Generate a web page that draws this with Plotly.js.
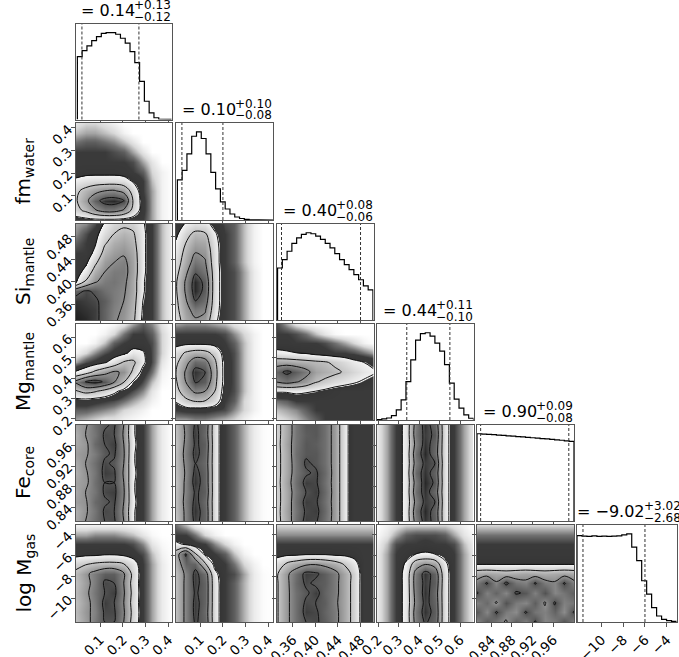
<!DOCTYPE html>
<html><head><meta charset="utf-8">
<script src="https://cdn.plot.ly/plotly-3.0.1.min.js"></script>
<style>html,body{margin:0;padding:0;background:#fff}</style>
</head><body><div id="chart" style="width:679px;height:657px"></div>
<script>
// ---------- data ----------
const paramLabels = ['', 'fm<sub>water</sub>', 'Si<sub>mantle</sub>', 'Mg<sub>mantle</sub>', 'Fe<sub>core</sub>', 'log M<sub>gas</sub>'];
const medians   = [0.14, 0.10, 0.40, 0.44, 0.90, -9.02];
const errPlus   = [0.13, 0.10, 0.08, 0.11, 0.09, 3.02];
const errMinus  = [0.12, 0.08, 0.06, 0.10, 0.08, 2.68];
const medianText = ['0.14', '0.10', '0.40', '0.44', '0.90', '\u22129.02'];
const plusText   = ['+0.13', '+0.10', '+0.08', '+0.11', '+0.09', '+3.02'];
const minusText  = ['\u22120.12', '\u22120.08', '\u22120.06', '\u22120.10', '\u22120.08', '\u22122.68'];

const tickVals = [[0.1,0.2,0.3,0.4],[0.1,0.2,0.3,0.4],[0.36,0.40,0.44,0.48],[0.2,0.3,0.4,0.5,0.6],[0.84,0.88,0.92,0.96],[-10,-8,-6,-4]];
const tickText = [['0.1','0.2','0.3','0.4'],['0.1','0.2','0.3','0.4'],['0.36','0.40','0.44','0.48'],['0.2','0.3','0.4','0.5','0.6'],['0.84','0.88','0.92','0.96'],['\u221210','\u22128','\u22126','\u22124']];

// histogram bin ranges (20 bins each) and counts (relative)
const histRange = [[0,0.42],[0,0.42],[0.333,0.502],[0.195,0.665],[0.813,1.0],[-12.25,-3.1]];
const hist0 = [72.5,79.4,84.8,90.8,95.4,99.3,100,100,98.2,93.6,87.9,78.2,65.6,43.9,21,7.7,2,0.5,0.2,0.1];
const hist1 = [45.6,56.2,75,95,100,92.4,75,54,35.3,20.5,12.5,6.8,3.4,1.7,0.8,0.3,0.1,0,0,0];
const hist2 = [59.6,69.2,78.8,87.7,94.2,98,100,98.8,96,92.3,87.7,82.7,76.1,69.2,63.4,57.7,51.9,46.1,39.2,34.6];
const hist3 = [0.4,1.2,2.3,5,11.5,23,44,69,91.5,99,100,96,88,79,63.5,42.3,24,13.5,5.8,2];
const hist4 = [100,99.6,99.3,98.9,98.4,98,97.6,97.2,96.7,96.3,95.9,95.4,95,94.5,94,93.5,93,92.5,91.8,91.3];
const hist5 = [98,97.3,97,97.7,97,97.3,97,97.3,97.7,98.9,100,84.8,69.6,46.8,31.6,16.3,6.8,3,1.5,0.8];
const hists = [hist0, hist1, hist2, hist3, hist4, hist5];

// 2D density levels (rows listed top -> bottom, 11 x 11 across each panel)
const dens_fm_p1 = [
[.2,.3,.3,.2,.1,0,0,0,0,0,0],
[.4,.5,.5,.4,.3,.1,0,0,0,0,0],
[.7,.8,.8,.7,.6,.4,.2,0,0,0,0],
[1,1,1,1,.9,.8,.5,.2,0,0,0],
[1,1,1,1,1,1,.9,.5,.2,0,0],
[1.1,1.2,1.2,1.2,1.2,1.1,1,.8,.3,.1,0],
[1.7,1.9,2,2,2,1.9,1.4,1,.4,.1,0],
[2.3,2.8,3.2,3.5,3.6,3.2,2.1,1,.5,.1,0],
[2.4,3.2,4.2,4.8,4.9,4.6,2.4,1.1,.5,.1,0],
[2.2,2.7,3.4,3.9,3.9,3.4,2.2,1.1,.5,.1,0],
[1.1,1.2,1.3,1.3,1.3,1.2,1.1,1,.5,.1,0]];
const dens_si_p1 = [
[.5,.6,.9,1.6,2.1,2.3,2.2,1.6,1,.4,.1],
[.6,.9,1.2,2,2.5,2.8,2.6,1.7,1,.4,.1],
[.8,1,1.4,2.4,2.9,3.1,2.8,1.7,1,.4,.1],
[1,1,1.7,2.8,3.2,3.4,3.0,1.7,1,.4,.1],
[1,1.3,2.3,3.2,3.5,3.7,3.1,1.7,1,.4,.1],
[1.1,1.8,2.9,3.5,3.8,3.8,3.1,1.7,1,.4,.1],
[1.4,2.6,3.4,3.8,3.9,3.7,3.0,1.6,1,.4,.1],
[4.2,4.6,4.4,4.0,3.8,3.6,3.0,1.6,1,.4,.1],
[4.8,4.7,4.6,4.3,3.8,3.5,2.9,1.5,1,.4,.1],
[4.9,4.8,4.7,4.2,3.7,3.4,2.8,1.4,1,.4,.1],
[5.0,4.9,4.7,4.2,3.6,3.3,2.7,1.3,1,.4,.1]];
const dens_si_fm = [
[1.0,1.6,1.9,1.8,1.2,.9,.8,.4,.1,0,0],
[1.3,2.2,2.7,2.6,1.6,1,.8,.4,.1,0,0],
[1.6,2.5,3.1,3.0,1.8,1,.8,.4,.1,0,0],
[1.8,2.8,3.5,3.3,1.9,1,.8,.4,.1,0,0],
[2.0,3.0,3.9,3.6,1.9,1,.8,.4,.1,0,0],
[2.2,3.3,4.4,3.9,2.0,1,.9,.5,.15,0,0],
[2.4,3.6,4.9,4.3,2.0,1,.9,.5,.15,0,0],
[2.4,3.6,4.9,4.3,2.0,1,.9,.5,.15,0,0],
[2.3,3.4,4.5,4.0,2.0,1,.9,.5,.15,0,0],
[2.2,3.2,3.8,3.6,1.9,1,.9,.5,.15,0,0],
[2.0,3.0,3.4,3.2,1.7,1,.9,.5,.15,0,0]];
const dens_mg_p1 = [
[0,0,0,0,.05,.2,.5,.8,.6,.2,0],
[0,0,0,.1,.3,.7,1,1,.8,.3,.05],
[0,0,.1,.4,.8,1,1.1,1.1,.9,.3,.05],
[.1,.3,.6,.9,1.1,1.3,1.8,1.6,.9,.3,0],
[.5,.9,1.1,1.4,1.9,2.6,2.7,1.7,.9,.2,0],
[1.6,2.0,2.7,3.2,3.6,3.4,2.3,1.2,.7,.1,0],
[3.7,4.6,4.8,4.4,3.6,2.6,1.4,.9,.4,.05,0],
[2.4,2.8,2.6,2.2,1.7,1.2,.9,.6,.2,0,0],
[1.2,1.2,1.1,1,.9,.7,.5,.3,.1,0,0],
[.8,.8,.7,.6,.5,.3,.2,.1,0,0,0],
[.5,.4,.3,.2,.2,.1,.05,0,0,0,0]];
const dens_mg_fm = [
[.5,.6,.6,.6,.5,.4,.2,.1,0,0,0],
[1,1,1,1,1,.9,.6,.3,.1,0,0],
[1.2,1.3,1.3,1.3,1.2,1,.8,.4,.1,0,0],
[2.0,2.6,2.9,2.8,2.2,1.1,.9,.4,.1,0,0],
[2.3,3.2,4.1,3.9,2.7,1.2,.9,.4,.1,0,0],
[2.5,3.6,4.8,4.5,2.9,1.2,.9,.4,.1,0,0],
[2.4,3.5,4.6,4.3,2.8,1.2,.9,.4,.1,0,0],
[2.2,3.0,3.7,3.5,2.5,1.1,.9,.4,.1,0,0],
[1.6,2.3,2.6,2.5,2.0,1,.8,.3,.1,0,0],
[1,1.1,1.1,1.1,1,.9,.6,.3,.1,0,0],
[.5,.5,.6,.6,.5,.4,.3,.1,0,0,0]];
const dens_mg_si = [
[.9,.5,.2,.05,0,0,0,0,0,0,0],
[1,1,.9,.7,.4,.2,.05,0,0,0,0],
[1.1,1.1,1,1,1,.9,.7,.5,.3,.1,0],
[1.7,1.6,1.5,1.4,1.2,1.1,1,1,.9,.7,.5],
[3.0,3.0,2.9,2.8,2.7,2.6,2.3,2.0,1.7,1.5,1.3],
[4.2,4.7,4.3,3.8,3.1,2.9,2.7,2.4,2.1,1.8,1.6],
[3.6,3.9,3.6,3.2,2.6,2.3,2.0,1.8,1.6,1.4,1.2],
[1.6,1.6,1.7,1.6,1.5,1.3,1.1,1,1,1,1],
[.7,.8,1,1,1,1,1,1,1,1,1],
[.4,.5,.6,.8,1,1,1,1,1,1,1],
[.2,.3,.4,.6,.8,1,1,1,1,1,1]];
const dens_fe_p1 = [
[3.1,3.4,4.0,4.4,4.6,3.5,1.6,1.0,.5,.15,0],
[2.9,3.5,3.9,4.6,4.5,3.4,1.6,1.0,.5,.15,0],
[3.0,3.3,4.1,4.5,4.7,3.5,1.7,1.0,.5,.15,0],
[3.2,3.4,3.8,4.4,4.6,3.6,1.6,1.0,.5,.15,0],
[3.0,3.5,4.0,4.6,4.4,3.5,1.6,1.0,.5,.15,0],
[2.9,3.4,3.9,4.7,4.6,3.4,1.7,1.0,.5,.15,0],
[3.1,3.3,4.0,4.5,4.5,3.5,1.6,1.0,.5,.15,0],
[3.0,3.5,3.9,4.6,4.7,3.6,1.6,1.0,.5,.15,0],
[3.2,3.4,4.1,4.4,4.6,3.5,1.7,1.0,.5,.15,0],
[2.9,3.4,3.9,4.6,4.5,3.4,1.6,1.0,.5,.15,0],
[3.0,3.5,4.0,4.5,4.6,3.5,1.6,1.0,.5,.15,0]];
const dens_fe_fm = [
[2.6,3.7,4.6,4.2,1.9,1.0,.8,.45,.15,.03,0],
[2.6,3.6,4.7,4.1,1.9,1.0,.8,.45,.15,.03,0],
[2.5,3.7,4.6,4.3,1.9,1.0,.8,.45,.15,.03,0],
[2.6,3.8,4.7,4.2,1.9,1.0,.8,.45,.15,.03,0],
[2.6,3.7,4.5,4.1,1.9,1.0,.8,.45,.15,.03,0],
[2.6,3.6,4.7,4.2,1.9,1.0,.8,.45,.15,.03,0],
[2.5,3.7,4.8,4.2,1.9,1.0,.8,.45,.15,.03,0],
[2.6,3.7,4.6,4.3,1.9,1.0,.8,.45,.15,.03,0],
[2.6,3.8,4.7,4.1,1.9,1.0,.8,.45,.15,.03,0],
[2.6,3.7,4.8,4.2,1.9,1.0,.8,.45,.15,.03,0],
[2.5,3.7,4.7,4.2,1.9,1.0,.8,.45,.15,.03,0]];
const dens_fe_si = [
[2.2,3.0,3.9,4.4,4.4,4.0,3.2,1.8,1.0,1.0,1.0],
[2.2,3.0,3.9,4.3,4.4,4.0,3.2,1.8,1.0,1.0,1.0],
[2.2,3.1,3.9,4.4,4.3,4.0,3.2,1.8,1.0,1.0,1.0],
[2.2,3.0,4.0,4.4,4.4,4.0,3.2,1.8,1.0,1.0,1.0],
[2.2,3.0,3.9,4.6,4.4,4.0,3.2,1.8,1.0,1.0,1.0],
[2.2,3.0,3.9,4.4,4.6,4.1,3.2,1.8,1.0,1.0,1.0],
[2.2,3.1,4.0,4.7,4.6,4.0,3.2,1.8,1.0,1.0,1.0],
[2.2,3.0,3.9,4.5,4.7,4.1,3.2,1.8,1.0,1.0,1.0],
[2.2,3.0,4.0,4.7,4.6,4.0,3.2,1.8,1.0,1.0,1.0],
[2.2,3.1,3.9,4.6,4.7,4.1,3.2,1.8,1.0,1.0,1.0],
[2.2,3.0,4.0,4.7,4.6,4.0,3.2,1.8,1.0,1.0,1.0]];
const dens_fe_mg = [
[.15,.5,1,1.8,3.8,4.8,4.2,1.9,1,.5,.15],
[.15,.5,1,1.8,3.9,4.7,4.4,1.9,1,.5,.15],
[.15,.5,1,1.8,3.7,4.8,4.2,1.9,1,.5,.15],
[.15,.5,1,1.8,4.0,4.9,4.1,1.9,1,.5,.15],
[.15,.5,1,1.8,3.8,4.7,4.5,1.9,1,.5,.15],
[.15,.5,1,1.8,4.1,4.8,4.2,1.9,1,.5,.15],
[.15,.5,1,1.8,3.8,4.9,4.4,1.9,1,.5,.15],
[.15,.5,1,1.8,4.0,4.8,4.1,1.9,1,.5,.15],
[.15,.5,1,1.8,3.7,4.7,4.5,1.9,1,.5,.15],
[.15,.5,1,1.8,4.0,4.9,4.2,1.9,1,.5,.15],
[.15,.5,1,1.8,3.8,4.8,4.3,1.9,1,.5,.15]];
const dens_gas_p1 = [
[.1,.1,.1,.1,.1,.1,.05,0,0,0,0],
[.5,.5,.6,.6,.6,.5,.4,.2,.05,0,0],
[1,1,1,1,1,1,.9,.6,.2,.05,0],
[1.2,1.3,1.3,1.4,1.4,1.3,1.1,.9,.4,.1,0],
[2.2,2.4,2.6,2.7,2.7,2.5,1.9,1,.5,.15,0],
[2.7,3.3,3.8,4.3,4.3,3.6,2.2,1,.5,.15,0],
[2.6,3.2,3.8,4.6,4.5,3.5,2.1,1,.5,.15,0],
[2.7,3.3,3.9,4.5,4.7,3.6,2.2,1,.5,.15,0],
[2.6,3.2,3.8,4.7,4.5,3.5,2.1,1,.5,.15,0],
[2.7,3.3,3.7,4.6,4.6,3.6,2.2,1,.5,.15,0],
[2.6,3.2,3.8,4.5,4.5,3.5,2.1,1,.5,.15,0]];
const dens_gas_fm = [
[.7,.4,.1,0,0,0,0,0,0,0,0],
[1,1,.7,.3,.1,0,0,0,0,0,0],
[1.7,1.4,1.1,1,.6,.3,.1,0,0,0,0],
[3.0,4.6,2.6,1.3,1,.8,.4,.1,0,0,0],
[2.8,4.2,4.2,2.6,1.2,1,.7,.3,.1,0,0],
[2.6,3.7,4.7,4.0,1.7,1,.9,.5,.15,.03,0],
[2.6,3.7,4.7,4.2,1.9,1,.8,.45,.15,.03,0],
[2.6,3.7,4.6,4.2,1.9,1,.8,.45,.15,.03,0],
[2.6,3.7,4.7,4.2,1.9,1,.8,.45,.15,.03,0],
[2.6,3.7,4.7,4.1,1.9,1,.8,.45,.15,.03,0],
[2.6,3.7,4.6,4.2,1.9,1,.8,.45,.15,.03,0]];
const dens_gas_si = [
[.3,.3,.3,.3,.3,.3,.3,.3,.3,.3,.3],
[.6,.6,.6,.6,.6,.6,.6,.6,.6,.6,.6],
[1,1,1,1,1,1,1,1,1,1,1],
[1.2,1.3,1.3,1.4,1.4,1.4,1.3,1.3,1.2,1,1],
[2.0,2.6,3.0,3.3,3.4,3.2,2.9,2.4,1.8,1,1],
[2.4,3.3,4.0,4.7,4.6,4.3,3.8,3.0,2.2,1,1],
[2.4,3.3,4.1,4.6,4.4,4.3,3.8,3.0,2.2,1,1],
[2.4,3.3,4.0,4.4,4.7,4.2,3.8,3.0,2.2,1,1],
[2.4,3.3,4.0,4.6,4.5,4.3,3.7,3.0,2.2,1,1],
[2.4,3.3,4.0,4.7,4.6,4.2,3.8,3.0,2.2,1,1],
[2.4,3.3,4.0,4.5,4.6,4.3,3.8,3.0,2.2,1,1]];
const dens_gas_mg = [
[0,.1,.2,.3,.3,.3,.3,.3,.2,.1,0],
[.05,.2,.5,.8,.9,.9,.9,.8,.5,.2,.05],
[.1,.4,.9,1,1,1.1,1,1,.9,.4,.1],
[.15,.5,1,1.2,1.5,1.6,1.5,1.2,1,.5,.15],
[.15,.5,1,1.6,3.0,3.4,3.1,1.7,1,.5,.15],
[.15,.5,1,1.8,3.8,4.8,4.2,1.9,1,.5,.15],
[.15,.5,1,1.8,3.9,4.7,4.3,1.9,1,.5,.15],
[.15,.5,1,1.8,3.8,4.8,4.1,1.9,1,.5,.15],
[.15,.5,1,1.8,3.7,4.7,4.2,1.9,1,.5,.15],
[.15,.5,1,1.8,3.9,4.8,4.3,1.9,1,.5,.15],
[.15,.5,1,1.8,3.8,4.6,4.2,1.9,1,.5,.15]];
const dens_gas_fe = [
[.3,.3,.3,.3,.3,.3,.3,.3,.3,.3,.3],
[.7,.7,.7,.7,.7,.7,.7,.7,.7,.7,.7],
[1,1,1,1,1,1,1,1,1,1,1],
[1.1,1.1,1.1,1.1,1.1,1.1,1.1,1.1,1.1,1.1,1.1],
[1.4,1.4,1.4,1.4,1.4,1.4,1.4,1.4,1.4,1.4,1.4],
[3.0,3.1,3.0,2.9,3.0,3.1,3.0,2.9,3.0,3.1,3.0],
[3.8,4.6,3.6,4.7,3.9,3.7,4.6,3.8,3.6,4.6,3.7],
[4.6,3.7,4.2,3.6,4.6,4.4,3.7,4.5,3.6,3.9,4.3],
[3.7,4.1,3.4,4.5,3.8,3.6,4.3,3.4,4.6,3.7,3.9],
[4.4,3.6,4.6,3.8,3.5,4.6,3.9,3.7,4.2,3.5,4.6],
[3.6,4.4,3.9,3.4,4.3,3.7,4.6,3.6,3.8,4.5,3.7]];

const densByPanel = {
  '1_0': dens_fm_p1,
  '2_0': dens_si_p1, '2_1': dens_si_fm,
  '3_0': dens_mg_p1, '3_1': dens_mg_fm, '3_2': dens_mg_si,
  '4_0': dens_fe_p1, '4_1': dens_fe_fm, '4_2': dens_fe_si, '4_3': dens_fe_mg,
  '5_0': dens_gas_p1, '5_1': dens_gas_fm, '5_2': dens_gas_si, '5_3': dens_gas_mg, '5_4': dens_gas_fe
};

// ---------- layout constants ----------
const W = 679, H = 657;
const axRange = [[-0.006,0.413],[-0.006,0.42],[0.332,0.503],[0.195,0.665],[0.813,1.0],[-12.25,-3.1]];
const colL = [76,176,277,377,477,577], colR = [171.5,273,373.5,473.5,574,676.5];
const rowT = [24,123,224,324,425,525], rowB = [119.5,220,320,420,521,622];

const CS = [[0,'#ffffff'],[0.06,'#d8d8d8'],[0.14,'#707070'],[0.2,'#3a3a3a'],[0.29,'#353535'],[0.3,'#f3f3f3'],[0.5,'#c4c4c4'],[0.7,'#8c8c8c'],[0.9,'#525252'],[1,'#1e1e1e']];

const tickFont = {family:'DejaVu Sans', size:13.5, color:'#000'};
const axCommon = {showline:true, mirror:true, linecolor:'#555', linewidth:1.3, ticks:'outside', ticklen:3.5, tickwidth:1, tickcolor:'#555', showgrid:false, zeroline:false, tickangle:-45, tickfont:tickFont, fixedrange:true, automargin:false};

const cvs = document.createElement('canvas').getContext('2d');
function textW(t, size){ cvs.font = size + 'px "DejaVu Sans"'; return cvs.measureText(t).width; }

const traces = [], shapes = [], annotations = [];
const layout = {width:W, height:H, margin:{l:0,r:0,t:0,b:0}, paper_bgcolor:'#fff', plot_bgcolor:'#fff', showlegend:false, font:{family:'DejaVu Sans', color:'#000'}};

const MAIN_FS = 16, ERR_FS = 12;
let k = 0;
for (let r = 0; r < 6; r++) {
  for (let c = 0; c <= r; c++) {
    k++;
    const sfx = k === 1 ? '' : String(k);
    const xr = 'x' + sfx, yr = 'y' + sfx;
    const xd = [colL[c]/W, colR[c]/W], yd = [1 - rowB[r]/H, 1 - rowT[r]/H];
    layout['xaxis' + sfx] = Object.assign({}, axCommon, {domain:xd, range:axRange[c], anchor:yr, tickmode:'array', tickvals:tickVals[c], ticktext:tickText[c], showticklabels: r === 5});
    if (r === c) {
      const counts = hists[c], lo = histRange[c][0], hi = histRange[c][1], n = counts.length, w = (hi - lo) / n;
      const xs = [lo], ys = [0];
      for (let i = 0; i < n; i++) { xs.push(lo + i*w, lo + (i+1)*w); ys.push(counts[i], counts[i]); }
      xs.push(hi); ys.push(0);
      const mx = Math.max.apply(null, counts);
      layout['yaxis' + sfx] = Object.assign({}, axCommon, {domain:yd, range:[0, 1.1*mx], anchor:xr, ticks:'', showticklabels:false});
      traces.push({type:'scatter', mode:'lines', x:xs, y:ys, xaxis:xr, yaxis:yr, line:{color:'#000', width:1.2}, hoverinfo:'skip', cliponaxis:true});
      [medians[c] - errMinus[c], medians[c] + errPlus[c]].forEach(q => {
        shapes.push({type:'line', xref:xr, yref:yr + ' domain', x0:q, x1:q, y0:0, y1:1, line:{color:'#333', width:1, dash:'3px,2px'}});
      });
      // title  "= value" with stacked +/- errors
      const main = '= ' + medianText[c];
      const M = textW(main, MAIN_FS), S = Math.max(textW(plusText[c], ERR_FS), textW(minusText[c], ERR_FS));
      const split = (M - S) / 2 + 5;
      annotations.push({xref:xr + ' domain', yref:yr + ' domain', x:0.5, y:1, xanchor:'right', yanchor:'bottom', xshift:split, yshift:2, text:main, showarrow:false, font:{size:MAIN_FS, color:'#000'}});
      annotations.push({xref:xr + ' domain', yref:yr + ' domain', x:0.5, y:1, xanchor:'left', yanchor:'bottom', xshift:split - 5, yshift:10, text:plusText[c], showarrow:false, font:{size:ERR_FS, color:'#000'}});
      annotations.push({xref:xr + ' domain', yref:yr + ' domain', x:0.5, y:1, xanchor:'left', yanchor:'bottom', xshift:split - 5, yshift:-1.5, text:minusText[c], showarrow:false, font:{size:ERR_FS, color:'#000'}});
    } else {
      layout['yaxis' + sfx] = Object.assign({}, axCommon, {domain:yd, range:axRange[r], anchor:xr, tickmode:'array', tickvals:tickVals[r], ticktext:tickText[r], showticklabels: c === 0});
      const M = densByPanel[r + '_' + c];
      const nx = M[0].length, ny = M.length;
      const gx = [], gy = [];
      for (let i = 0; i < nx; i++) gx.push(axRange[c][0] + (axRange[c][1] - axRange[c][0]) * i / (nx - 1));
      for (let j = 0; j < ny; j++) gy.push(axRange[r][0] + (axRange[r][1] - axRange[r][0]) * j / (ny - 1));
      traces.push({type:'contour', x:gx, y:gy, z:M.slice().reverse(), xaxis:xr, yaxis:yr,
        zauto:false, zmin:0, zmax:5, autocontour:false,
        contours:{start:1.5, end:4.5, size:1, coloring:'heatmap', showlines:true},
        line:{color:'#111', width:1, smoothing:1}, colorscale:CS, showscale:false, hoverinfo:'skip'});
    }
  }
}
// row labels
for (let r = 1; r < 6; r++) {
  annotations.push({xref:'paper', yref:'paper', x:24/W, y:1 - (rowT[r] + rowB[r]) / 2 / H, xanchor:'center', yanchor:'middle', textangle:-90, text:paramLabels[r], showarrow:false, font:{size:20, color:'#000'}});
}
layout.shapes = shapes;
layout.annotations = annotations;
Plotly.newPlot('chart', traces, layout, {displayModeBar:false, staticPlot:true});
</script></body></html>
